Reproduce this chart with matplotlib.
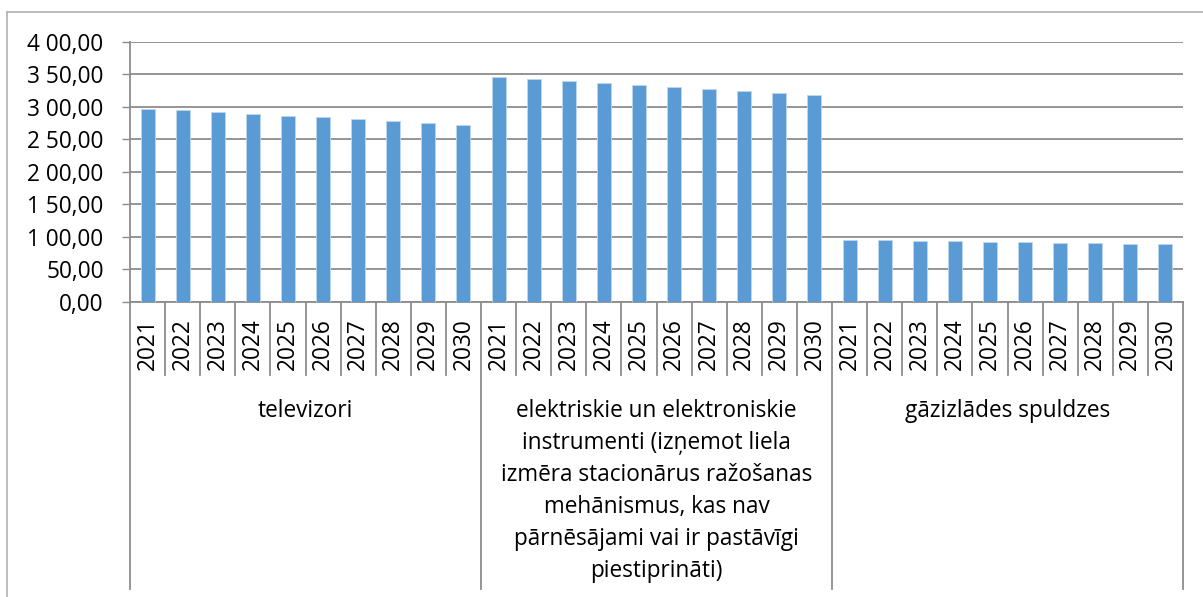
import numpy as np
import matplotlib.pyplot as plt
from matplotlib.transforms import blended_transform_factory

# ---------------------------------------------------------
# Data
# ---------------------------------------------------------
years = ["2021", "2022", "2023", "2024", "2025", "2026", "2027", "2028", "2029", "2030"]
groups = [
    "televizori",
    "elektriskie un elektroniskie\ninstrumenti (izņemot liela\nizmēra stacionārus ražošanas\nmehānismus, kas nav\npārnēsājami vai ir pastāvīgi\npiestiprināti)",
    "gāzizlādes spuldzes",
]
televizori = [296.6, 294.5, 291.4, 289.4, 286.3, 283.8, 281.2, 278.6, 275.5, 272.4]
elektriskie = [345.0, 342.2, 339.6, 336.5, 333.4, 330.4, 327.3, 324.2, 320.7, 317.6]
spuldzes = [95.3, 94.8, 93.7, 93.2, 92.2, 91.7, 90.7, 90.1, 89.6, 88.5]
y_ticks = [0, 50, 100, 150, 200, 250, 300, 350, 400]
y_tick_labels = ["0,00", "50,00", "1 00,00", "1 50,00", "2 00,00",
                 "2 50,00", "3 00,00", "3 50,00", "4 00,00"]

BAR_COLOR = "#5B9BD5"
LINE_COLOR = "#8C8C8C"
FONT = "Open Sans"
FSIZE = 16.3

W, H = 1203, 597
fig = plt.figure(figsize=(W / 100, H / 100), dpi=100)
fig.patch.set_facecolor("white")

# plot area in pixel coordinates: x 130..1183, y 42..302
left, right, top, bottom = 130, 1183, 41.7, 302
ax = fig.add_axes([left / W, 1 - bottom / H, (right - left) / W, (bottom - top) / H])

values = televizori + elektriskie + spuldzes
n = len(values)
x = np.arange(n) + 0.5
ax.bar(x, values, width=0.4, color=BAR_COLOR, edgecolor="#BDD7EE", linewidth=0.6, zorder=3)

ax.set_xlim(0, n)
ax.set_ylim(0, 400)
ax.set_yticks(y_ticks)
ax.set_yticklabels(y_tick_labels, fontsize=FSIZE, family=FONT)
ax.set_xticks([])
ax.yaxis.grid(True, color=LINE_COLOR, linewidth=1.3, zorder=0)
ax.tick_params(axis="y", length=6, width=1.0, color=LINE_COLOR, pad=13)
for side in ["top", "right"]:
    ax.spines[side].set_visible(False)
ax.spines["left"].set_color(LINE_COLOR)
ax.spines["bottom"].set_color(LINE_COLOR)
ax.spines["left"].set_linewidth(1.3)
ax.spines["bottom"].set_linewidth(1.3)

# category axis below the plot
trans = blended_transform_factory(ax.transData, fig.transFigure)

def fy(py):
    return 1 - py / H

# year separators and labels
for i in range(n + 1):
    if i % len(years) == 0:
        y_end = 589
    else:
        y_end = 375
    ax.plot([i, i], [fy(302), fy(y_end)], transform=trans, color=LINE_COLOR,
            linewidth=1.3, clip_on=False)
for i in range(n):
    ax.text(i + 0.5, fy(318), years[i % len(years)], transform=trans, rotation=90,
            ha="center", va="top", fontsize=FSIZE, family=FONT)

# group labels, one line at a time (baseline spacing ~32 px)
for g, label in enumerate(groups):
    cx = g * len(years) + len(years) / 2
    for k, line in enumerate(label.split("\n")):
        ax.text(cx, fy(417 + 32 * k), line, transform=trans, ha="center",
                va="baseline", fontsize=FSIZE, family=FONT)

# outer chart frame
fig.add_artist(plt.Line2D([7 / W, 7 / W], [fy(12), 0], transform=fig.transFigure,
                          color="#B0B0B0", linewidth=1.2))
fig.add_artist(plt.Line2D([7 / W, 1], [fy(12), fy(12)], transform=fig.transFigure,
                          color="#B0B0B0", linewidth=1.2))

fig.savefig("out.png", dpi=100)
